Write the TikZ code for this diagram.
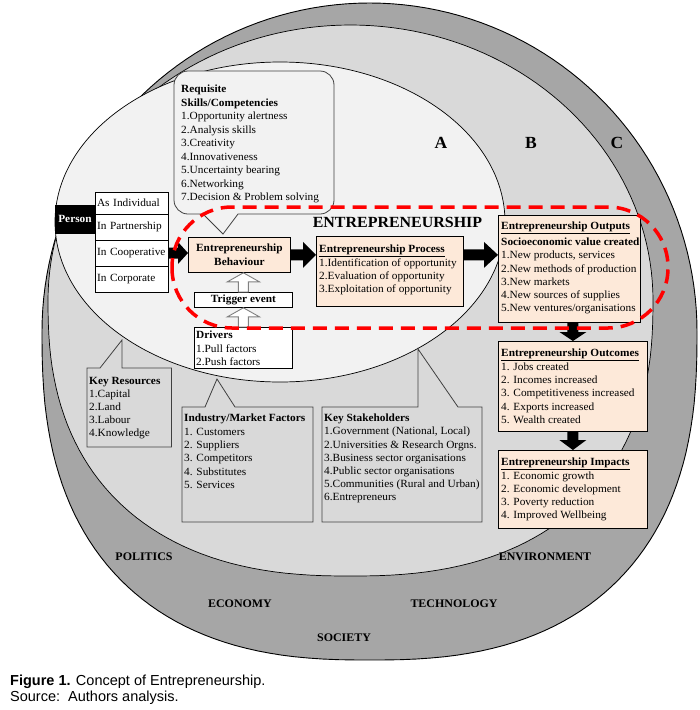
\documentclass[tikz,border=0pt]{standalone}
\usepackage{fontspec}
\setmainfont{Liberation Serif}[FakeStretch=1.03]
\newfontfamily\capfont{Liberation Sans}
\usetikzlibrary{calc}
\definecolor{outerc}{HTML}{A6A6A6}
\definecolor{midc}{HTML}{D9D9D9}
\definecolor{innerc}{HTML}{F2F2F2}
\definecolor{peach}{HTML}{FDE9D9}
\definecolor{edgec}{HTML}{404040}
% horizontal block arrow: start, end, shaft half, head half, head length
\newcommand{\blkH}[5]{\fill ($(#1)+(0,-#3)$) -- ($(#2)+(-#5,-#3)$) -- ($(#2)+(-#5,-#4)$) -- (#2) -- ($(#2)+(-#5,#4)$) -- ($(#2)+(-#5,#3)$) -- ($(#1)+(0,#3)$) -- cycle;}
% vertical (downward) block arrow
\newcommand{\blkV}[5]{\fill ($(#1)+(-#3,0)$) -- ($(#2)+(-#3,-#5)$) -- ($(#2)+(-#4,-#5)$) -- (#2) -- ($(#2)+(#4,-#5)$) -- ($(#2)+(#3,-#5)$) -- ($(#1)+(#3,0)$) -- cycle;}
% hollow upward arrow
\newcommand{\holUp}[2]{\filldraw[hollowarrow] ($(#1)+(-5,0)$) -- ($(#2)+(-5,9)$) -- ($(#2)+(-16,9)$) -- (#2) -- ($(#2)+(16,9)$) -- ($(#2)+(5,9)$) -- ($(#1)+(5,0)$) -- cycle;}
\begin{document}
\begin{tikzpicture}[x=1pt,y=-1pt,
  txt/.style={inner sep=0pt, anchor=north west, align=left, font=\fontsize{11}{13.3}\selectfont},
  peachbox/.style={draw=black, fill=peach, line width=0.8pt, inner sep=0pt, anchor=north west},
  whitebox/.style={draw=black, fill=white, line width=0.8pt},
  formbox/.style={whitebox, minimum width=73pt, text width=69pt, inner sep=2pt, align=left, font=\fontsize{11}{13}\selectfont},
  callout/.style={draw=edgec, fill=midc, line width=0.8pt},
  hollowarrow/.style={draw=gray, fill=white, line width=0.9pt},
  ring/.style={draw=black, line width=0.7pt},
  redline/.style={draw=red, line width=3.5pt, dash pattern=on 14pt off 8pt},
  envlabel/.style={font=\fontsize{11.6}{13}\selectfont\bfseries, inner sep=0pt},
  letter/.style={font=\fontsize{17}{18}\selectfont\bfseries, inner sep=0pt},
]
\useasboundingbox (0,0) rectangle (700,710);
\fill[white] (0,0) rectangle (700,710);

% outer ring: elliptic upper half, fuller lower half
\filldraw[ring, fill=outerc, line width=0.9pt]
  plot[domain=0:180, samples=91, variable=\t] ({369.5+327.5*cos(\t)}, {331.5-328.5*sin(\t)})
  -- plot[domain=180.5:359.5, samples=90, variable=\t]
  ({369.5+327.5*sign(cos(\t))*abs(cos(\t))^0.8}, {331.5-328.5*sign(sin(\t))*abs(sin(\t))^0.8}) -- cycle;
% middle ring
\filldraw[ring, fill=midc]
  plot[domain=0:180, samples=91, variable=\t] ({350.5+302.5*cos(\t)}, {300.5-275.5*sin(\t)})
  -- plot[domain=180.5:359.5, samples=90, variable=\t]
  ({350.5+302.5*sign(cos(\t))*abs(cos(\t))^0.833}, {300.5-275.5*sign(sin(\t))*abs(sin(\t))^0.833}) -- cycle;
% inner ellipse
\filldraw[ring, fill=innerc] (280,222) ellipse [x radius=225, y radius=160];

% callouts in the middle ring
\filldraw[callout] (87,368) -- (100,368) -- (122,340) -- (122,368) -- (171.5,368) -- (171.5,447) -- (87,447) -- cycle;
\filldraw[callout] (182,407) -- (205,407) -- (217,379) -- (235,407) -- (313,407) -- (313,522) -- (182,522) -- cycle;
\filldraw[callout] (322,407) -- (418,407) -- (418,349) -- (458,407) -- (482,407) -- (482,522) -- (322,522) -- cycle;

\node[txt, font=\fontsize{11}{13}\selectfont] (resT) at (89,375.2) {\strut\textbf{Key Resources}\\ 1.Capital\\ 2.Land\\ 3.Labour\\ 4.Knowledge};
\node[txt, font=\fontsize{11}{13.4}\selectfont] (indT) at (184,412.2) {\strut\textbf{Industry/Market Factors}\\ 1. Customers\\ 2. Suppliers\\ 3. Competitors\\ 4. Substitutes\\ 5. Services};
\node[txt, font=\fontsize{11}{13.2}\selectfont] (stkT) at (324,412.2) {\strut\textbf{Key Stakeholders}\\ 1.Government (National, Local)\\ 2.Universities \& Research Orgns.\\ 3.Business sector organisations\\ 4.Public sector organisations\\ 5.Communities (Rural and Urban)\\ 6.Entrepreneurs};

% requisite skills callout
\filldraw[draw=edgec, fill=innerc, line width=0.8pt] (203,214) [rounded corners=14pt] -- (174,214) -- (174,71) -- (334,71) -- (334,214) [sharp corners] -- (238,214) -- (223,234) -- cycle;
\node[txt, font=\fontsize{11}{13.5}\selectfont] (reqT) at (181,83.2) {\strut\textbf{Requisite}\\ \textbf{Skills/Competencies}\\ 1.Opportunity alertness\\ 2.Analysis skills\\ 3.Creativity\\ 4.Innovativeness\\ 5.Uncertainty bearing\\ 6.Networking\\ 7.Decision \& Problem solving};

% person and forms
\node[formbox, minimum height=22pt] (indiv) at (131.5,203) {As Individual};
\node[formbox, minimum height=26pt] (partn) at (131.5,227) {In Partnership};
\node[formbox, minimum height=26pt] (coop) at (131.5,253) {In Cooperative};
\node[formbox, minimum height=26pt] (corp) at (131.5,279) {In Corporate};
\node[fill=black, draw=black, minimum width=40pt, minimum height=28pt, inner sep=0pt, text=white, font=\fontsize{11}{13}\selectfont\bfseries] (person) at (75,219) {Person};

% entrepreneurship core
\node[peachbox, minimum width=102pt, minimum height=35pt, align=center, font=\fontsize{11}{14}\selectfont\bfseries] (beh) at (188,237) {Entrepreneurship\\ Behaviour};
\node[whitebox, minimum width=98pt, minimum height=15pt, inner sep=0pt, anchor=north west, font=\fontsize{11}{13}\selectfont\bfseries] (trig) at (194,292) {Trigger event};
\node[whitebox, minimum width=98pt, minimum height=41pt, inner sep=0pt, anchor=north west] (drv) at (194,327) {};
\node[txt, font=\fontsize{11}{13.5}\selectfont] (drvT) at (196,329.2) {\strut\textbf{Drivers}\\ 1.Pull factors\\ 2.Push factors};

\node[peachbox, minimum width=147pt, minimum height=70pt] (proc) at (316,236) {};
\node[txt] (procT) at (319,243.2) {\strut\underline{\textbf{Entrepreneurship Process}}\\ 1.Identification of opportunity\\ 2.Evaluation of opportunity\\ 3.Exploitation of opportunity};

\node[peachbox, minimum width=142pt, minimum height=107pt] (out) at (498,215) {};
\node[txt, font=\fontsize{11}{13.1}\selectfont] (outT) at (501,220.2) {\strut\underline{\textbf{Entrepreneurship Outputs}}\\[3.2pt] \textbf{Socioeconomic value created}\\ 1.New products, services\\ 2.New methods of production\\ 3.New markets\\ 4.New sources of supplies\\ 5.New ventures/organisations};

\node[peachbox, minimum width=149pt, minimum height=90pt] (outc) at (498,341) {};
\node[txt, font=\fontsize{11}{13.4}\selectfont] (outcT) at (501,347.2) {\strut\underline{\textbf{Entrepreneurship Outcomes}}\\ 1. Jobs created\\ 2. Incomes increased\\ 3. Competitiveness increased\\ 4. Exports increased\\ 5. Wealth created};

\node[peachbox, minimum width=149pt, minimum height=78pt] (imp) at (498,450) {};
\node[txt, font=\fontsize{11}{13.3}\selectfont] (impT) at (501,456.2) {\strut\underline{\textbf{Entrepreneurship Impacts}}\\ 1. Economic growth\\ 2. Economic development\\ 3. Poverty reduction\\ 4. Improved Wellbeing};

% arrows
\coordinate (a1s) at (coop.east); \coordinate (a1e) at (coop.east -| beh.west);
\coordinate (a2s) at (beh.east); \coordinate (a2e) at (beh.east -| proc.west);
\coordinate (a3s) at (proc.east |- beh.east); \coordinate (a3e) at (out.west |- beh.east);
\coordinate (a4s) at (outc.north |- out.south); \coordinate (a4e) at (outc.north);
\coordinate (a5s) at (outc.south); \coordinate (a5e) at (imp.north);
\blkH{a1s}{a1e}{5.5}{11}{10}
\blkH{a2s}{a2e}{5.5}{13}{13}
\blkH{a3s}{a3e}{5.5}{13}{14}
\blkV{a4s}{a4e}{5.5}{13.5}{9}
\blkV{a5s}{a5e}{5.5}{13.5}{10}
\coordinate (h1s) at (trig.north); \coordinate (h1e) at (trig.north |- beh.south);
\coordinate (h2s) at (drv.north); \coordinate (h2e) at (drv.north |- trig.south);
\holUp{h1s}{h1e}
\holUp{h2s}{h2e}

% red dashed boundary
\draw[redline, rounded corners=60pt] (172,207) rectangle (668,328);

% labels
\node[font=\fontsize{15.5}{17}\selectfont\bfseries, inner sep=0pt] (entr) at (397.5,222.5) {ENTREPRENEURSHIP};
\node[letter] (labA) at (441,143) {A};
\node[letter] (labB) at (531,143) {B};
\node[letter] (labC) at (617,143) {C};
\node[envlabel] (pol) at (144,557) {POLITICS};
\node[envlabel] (env) at (545,557) {ENVIRONMENT};
\node[envlabel] (eco) at (240,604) {ECONOMY};
\node[envlabel] (tec) at (454,604) {TECHNOLOGY};
\node[envlabel] (soc) at (344,638) {SOCIETY};

% caption
\node[anchor=west, inner sep=0pt, font=\capfont\fontsize{14.5}{16}\selectfont] (cap1) at (10,682) {\textbf{Figure 1.} Concept of Entrepreneurship.};
\node[anchor=west, inner sep=0pt, font=\capfont\fontsize{14.5}{16}\selectfont] (cap2) at (10,698) {Source:\ \ Authors analysis.};
\end{tikzpicture}
\end{document}
